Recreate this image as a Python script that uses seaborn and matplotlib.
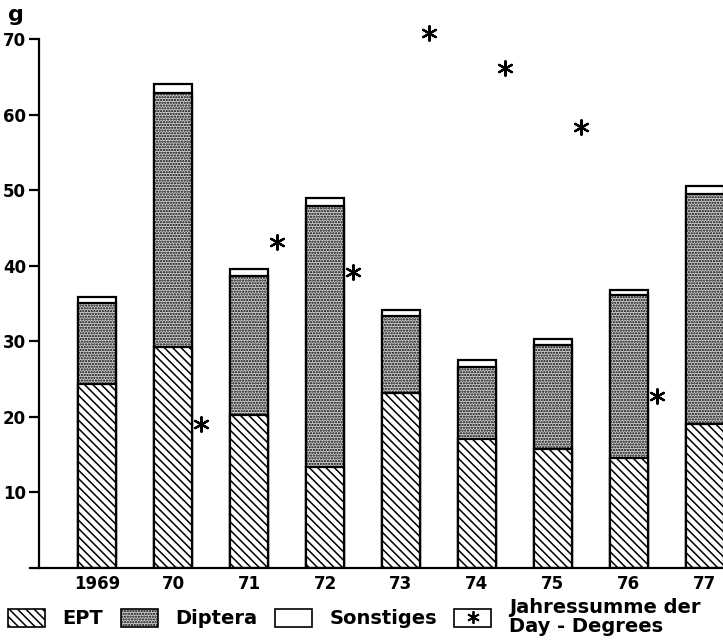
import matplotlib
matplotlib.use("Agg")
import matplotlib.pyplot as plt
import seaborn as sns
import numpy as np
import pandas as pd
from matplotlib.patches import Patch
from matplotlib.lines import Line2D

years = ["1969", "70", "71", "72", "73", "74", "75", "76", "77"]
ept = [24.4, 29.2, 20.3, 13.3, 23.1, 17.1, 15.8, 14.6, 19.0]
diptera = [10.7, 33.6, 18.3, 34.6, 10.2, 9.5, 13.7, 21.5, 30.5]
sonstiges = [0.8, 1.3, 1.0, 1.0, 0.8, 0.9, 0.8, 0.7, 1.0]
day_degrees = [np.nan, 19.1, 43.2, 39.2, 70.8, 66.1, 58.4, 22.8, 61.0]
yticks = [10, 20, 30, 40, 50, 60, 70]

sns.set_style("ticks")
plt.rcParams["font.family"] = ["DejaVu Sans"]
plt.rcParams["hatch.linewidth"] = 1.1
for k in ["text.color", "axes.labelcolor", "xtick.color", "ytick.color", "axes.edgecolor"]:
    plt.rcParams[k] = "black"

dip_face = "#d0d0d0"

df = pd.DataFrame({"year": years, "ept": ept, "diptera": diptera, "sonst": sonstiges})
df["mid"] = df["ept"] + df["diptera"]
df["total"] = df["mid"] + df["sonst"]

fig = plt.figure(figsize=(7.23, 6.42), dpi=100)
ax = fig.add_axes([30 / 723, 74 / 642, 693 / 723, 529 / 642])

common = dict(x="year", order=years, width=0.5, edgecolor="black", linewidth=1.6, ax=ax)
sns.barplot(data=df, y="total", color="white", **common)
n0 = len(ax.patches)
sns.barplot(data=df, y="mid", color=dip_face, hatch="......", **common)
n1 = len(ax.patches)
sns.barplot(data=df, y="ept", color="white", hatch="\\\\\\\\", **common)
for i, p in enumerate(ax.patches):
    p.set_facecolor(dip_face if n0 <= i < n1 else "white")

xs = np.arange(len(years)) + 0.37
sns.scatterplot(x=xs, y=day_degrees, marker=(6, 2, 0), s=110, color="black",
                linewidth=1.6, ax=ax, clip_on=False, zorder=5)

ax.set_xlim(-0.885, 8.24)
ax.set_ylim(0, 70)
ax.spines["left"].set_position(("data", -0.77))
ax.spines["left"].set_bounds(0, 70)
ax.spines["left"].set_linewidth(1.6)
ax.spines["bottom"].set_linewidth(1.6)
sns.despine(ax=ax, top=True, right=True)
ax.set_yticks(yticks)
ax.set_yticklabels([str(t) for t in yticks], fontsize=12, fontweight="bold")
ax.tick_params(axis="y", length=7, width=1.6, pad=2)
ax.tick_params(axis="x", length=0, pad=5)
ax.set_xticks(range(len(years)))
ax.set_xticklabels(years, fontsize=12, fontweight="bold")
ax.set_xlabel("")
ax.set_ylabel("")
fig.text(8 / 723, 1 - 15 / 642, "g", fontsize=16, fontweight="bold", va="center")

handles = [
    Patch(facecolor="white", edgecolor="black", hatch="\\\\\\\\", linewidth=1.2),
    Patch(facecolor=dip_face, edgecolor="black", hatch="......", linewidth=1.2),
    Patch(facecolor="white", edgecolor="black", linewidth=1.2),
    (Patch(facecolor="white", edgecolor="black", linewidth=1.2),
     Line2D([], [], marker=(6, 2, 0), color="black", linestyle="none", markersize=9, markeredgewidth=1.3)),
]
labels = ["EPT", "Diptera", "Sonstiges", "Jahressumme der\nDay - Degrees"]
fig.legend(handles, labels, loc="center left", bbox_to_anchor=(-0.005, 1 - 617 / 642), ncol=4,
           frameon=False, handlelength=1.9, handleheight=1.1, handletextpad=0.9,
           columnspacing=0.9, labelspacing=0.2, borderpad=0.1,
           prop={"size": 14, "weight": "bold", "linespacing": 1.0} if False else {"size": 14, "weight": "bold"})
for t in fig.legends[0].get_texts():
    t.set_linespacing(1.0)

fig.savefig("out.png", dpi=100)
